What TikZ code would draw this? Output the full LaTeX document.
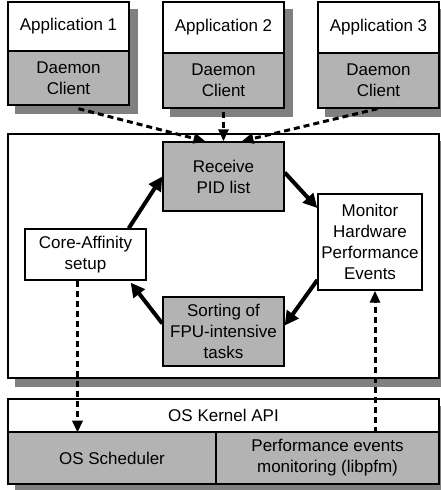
\documentclass[tikz,border=0pt]{standalone}
\usepackage{fontspec}
\setmainfont{Liberation Sans}
\usetikzlibrary{arrows.meta,backgrounds}
\definecolor{boxgray}{HTML}{B3B3B3}
\definecolor{shadowgray}{HTML}{808080}
\tikzset{
    blk/.style={draw,line width=1.4pt,inner sep=0pt,align=center,
        font=\fontsize{17}{21}\selectfont},
    whiteblk/.style={blk,fill=white},
    grayblk/.style={blk,fill=boxgray},
    flow/.style={-{Triangle[length=14pt,width=14pt]},line width=4pt},
    dashflow/.style={-{Triangle[length=12pt,width=10pt]},line width=3pt,
        dash pattern=on 6pt off 4pt},
}
\begin{document}
\begin{tikzpicture}[x=1pt,y=-1pt]
        \useasboundingbox (0,0) rectangle (441,490);

        %%%%%%%%%% Applicazioni %%%%%%%%%%
        \node[whiteblk,minimum width=121pt,minimum height=49pt] (app1) at (68.5,26.5) {Application 1};
        \node[grayblk,minimum width=121pt,minimum height=54pt] (dc1) at (68.5,78) {Daemon\\Client};
        \node[whiteblk,minimum width=121pt,minimum height=51pt] (app2) at (223.5,27.5) {Application 2};
        \node[grayblk,minimum width=121pt,minimum height=55pt] (dc2) at (223.5,80.5) {Daemon\\Client};
        \node[whiteblk,minimum width=121pt,minimum height=51pt] (app3) at (378.5,27.5) {Application 3};
        \node[grayblk,minimum width=121pt,minimum height=55pt] (dc3) at (378.5,80.5) {Daemon\\Client};

        %%%%%%%%%% Demone %%%%%%%%%%
        \node[whiteblk,minimum width=431pt,minimum height=244pt] (daemon) at (223.5,256) {};
        \node[grayblk,minimum width=121pt,minimum height=69pt] (recv) at (223.5,176.5) {Receive\\PID list};
        \node[whiteblk,minimum width=104pt,minimum height=96pt] (mon) at (370,242) {Monitor\\Hardware\\Performance\\Events};
        \node[grayblk,minimum width=121pt,minimum height=69pt] (sort) at (223.5,331.5) {Sorting of\\FPU-intensive\\tasks};
        \node[whiteblk,minimum width=121pt,minimum height=51pt] (core) at (85.5,254.5) {Core-Affinity\\setup};

        %%%%%%%%%% Kernel %%%%%%%%%%
        \node[whiteblk,minimum width=431pt,minimum height=33pt] (api) at (223.5,415.5) {OS Kernel API};
        \node[grayblk,minimum width=208pt,minimum height=52pt] (sched) at (112,458) {OS Scheduler};
        \node[grayblk,minimum width=223pt,minimum height=52pt] (perf) at (327.5,458) {Performance events\\monitoring (libpfm)};

        %%%%%%%%%% Ombre %%%%%%%%%%
        \begin{scope}[on background layer]
            \fill[shadowgray] ([shift={(8,8)}]app1.north west) rectangle ([shift={(8,8)}]dc1.south east);
            \fill[shadowgray] ([shift={(8,8)}]app2.north west) rectangle ([shift={(8,8)}]dc2.south east);
            \fill[shadowgray] ([shift={(8,8)}]app3.north west) rectangle ([shift={(8,8)}]dc3.south east);
            \fill[shadowgray] ([shift={(8,8)}]daemon.north west) rectangle ([shift={(8,8)}]daemon.south east);
            \fill[shadowgray] ([shift={(8,8)}]api.north west) rectangle ([shift={(8,8)}]perf.south east);
        \end{scope}

        %%%%%%%%% Frecce %%%%%%%%%
        \draw[dashflow] ([shift={(10,3)}]dc1.south) -- ([xshift=-18pt]recv.north);
        \draw[dashflow] ([yshift=-3pt]dc2.south) -- (recv.north);
        \draw[dashflow] ([shift={(-1,0)}]dc3.south) -- ([xshift=18pt]recv.north);

        \draw[flow] ([yshift=4pt]recv.east) -- ([yshift=34pt]mon.west);
        \draw[flow] ([yshift=-38pt]mon.west) -- ([yshift=6pt]sort.east);
        \draw[flow] ([yshift=8pt]sort.west) -- ([xshift=-16pt,yshift=-2pt]core.south east);
        \draw[flow] ([xshift=-18pt]core.north east) -- (recv.west);

        \draw[dashflow] ([xshift=-8pt]core.south) -- ([xshift=-8pt]core.south |- api.south);
        \draw[dashflow] ([xshift=5pt]mon.south |- api.south) -- ([xshift=5pt]mon.south);
    \end{tikzpicture}
\end{document}
